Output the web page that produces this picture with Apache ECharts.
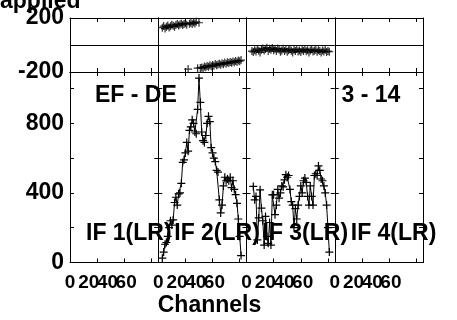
<!DOCTYPE html>
<html><head><meta charset="utf-8">
<script src="https://cdn.jsdelivr.net/npm/echarts@6/dist/echarts.min.js"></script>
<style>html,body{margin:0;padding:0;background:#fff}#c{width:457px;height:320px}</style>
</head><body><div id="c"></div>
<script>
// ---- data ----
const ifLabels = ['IF 1(LR)', 'IF 2(LR)', 'IF 3(LR)', 'IF 4(LR)'];
const baselineLabel = 'EF - DE';
const timeLabel = '3 - 14';
const titleText = 'applied';
const xAxisName = 'Channels';
const xTickLabels = [0, 20, 40, 60];
const ampTickLabels = [0, 400, 800];
const phaseTickLabels = [-200, 200];
const chanMax = 65;
const ampMax = 1095;
const phaseMin = -200;
const phaseMax = 200;

const if2AmpStart = 3;
const if2Amp = [25,60,105,115,150,200,240,215,245,345,375,330,395,400,455,575,590,630,690,640,760,780,820,800,750,740,880,1060,920,750,700,690,730,800,840,810,660,630,600,580,530,520,360,285,330,440,490,470,480,470,490,430,470,420,390,340,250,150,40];
const if2PhaseStart = 3;
const if2Phase = [128,140,122,135,145,130,138,150,142,136,148,155,144,152,160,148,156,162,150,-178,158,165,155,168,160,172,-172,165,-170,-166,-172,-160,-164,-155,-162,-150,-158,-148,-154,-140,-150,-145,-138,-146,-135,-142,-130,-138,-128,-134,-125,-132,-122,-128,-118,-125,-115,-120,-112];
const if3AmpStart = 5;
const if3Amp = [437,360,380,130,256,418,312,240,100,265,150,110,230,100,389,390,275,330,420,370,400,440,435,475,505,490,500,420,350,330,200,310,250,330,380,440,400,470,485,460,380,330,440,380,330,500,510,500,555,530,480,470,440,400,330,200,60];
const if3PhaseStart = 4;
const if3Phase = [-45,-52,-38,-48,-30,-42,-55,-35,-25,-40,-30,-20,-45,-28,-35,-22,-38,-30,-45,-25,-35,-50,-40,-28,-45,-33,-50,-38,-30,-42,-55,-35,-45,-30,-48,-40,-52,-35,-44,-30,-46,-38,-55,-40,-32,-48,-42,-35,-50,-38,-45,-55,-40,-48,-35,-52,-45,-50];

// ---- layout ----
const panelLeft = 70, panelW = 88.25;
const phaseTop = 18, phaseH = 54;
const ampTop = 72, ampH = 190.5;
const FONT = '"Liberation Sans", Arial, sans-serif';
const plus = 'path://M0,4.25H10V5.75H0Z M4.25,0H5.75V10H4.25Z';

const grids = [], xAxes = [], yAxes = [], series = [];
const lineCol = '#000';
function xa(grid, pos, extra) {
  xAxes.push(Object.assign({
    type: 'value', gridIndex: grid, position: pos, min: 0, max: chanMax, interval: 20,
    axisLine: { show: true, onZero: false, lineStyle: { color: lineCol, width: 1 } },
    axisTick: { show: true, inside: true, length: 4, lineStyle: { color: lineCol } },
    axisLabel: { show: false }, splitLine: { show: false }
  }, extra || {}));
  return xAxes.length - 1;
}
function ya(grid, pos, extra) {
  yAxes.push(Object.assign({
    type: 'value', gridIndex: grid, position: pos,
    axisLine: { show: true, onZero: false, lineStyle: { color: lineCol, width: 1 } },
    axisTick: { show: true, inside: true, length: 4, lineStyle: { color: lineCol } },
    axisLabel: { show: false }, splitLine: { show: false }
  }, extra || {}));
  return yAxes.length - 1;
}
const idx = [];
for (let i = 0; i < 4; i++) {
  const L = panelLeft + i * panelW;
  grids.push({ left: L, top: phaseTop, width: panelW, height: phaseH });
  const gp = grids.length - 1;
  grids.push({ left: L, top: ampTop, width: panelW, height: ampH });
  const ga = grids.length - 1;
  xa(gp, 'top');
  const pxb = xa(gp, 'bottom');
  xa(ga, 'top');
  const axb = xa(ga, 'bottom');
  xa(ga, 'bottom', {
    max: chanMax * 1.45, axisLine: { show: false, onZero: false }, axisTick: { show: false },
    axisLabel: { show: true, margin: 11, fontSize: 19, fontWeight: 'bold', fontFamily: FONT, color: '#000',
      showMinLabel: true, showMaxLabel: false, hideOverlap: false, interval: 0,
      formatter: v => xTickLabels.includes(v) ? String(v) : '' }
  });
  const pyl = ya(gp, 'left', {
    min: phaseMin, max: phaseMax, interval: 200, axisTick: { show: false },
    splitLine: { show: true, lineStyle: { color: lineCol, width: 1 } },
    axisLabel: { show: i === 0, margin: 6, fontSize: 23, fontWeight: 'bold', fontFamily: FONT, color: '#000',
      showMinLabel: true, showMaxLabel: true, hideOverlap: false,
      formatter: v => phaseTickLabels.includes(v) ? String(v) : '' }
  });
  ya(gp, 'right', { min: phaseMin, max: phaseMax, interval: 200, axisTick: { show: false } });
  const ayl = ya(ga, 'left', {
    min: 0, max: ampMax, interval: 200,
    axisLabel: { show: i === 0, margin: 6, fontSize: 23, fontWeight: 'bold', fontFamily: FONT, color: '#000',
      showMinLabel: true, showMaxLabel: false, hideOverlap: false,
      formatter: v => ampTickLabels.includes(v) ? String(v) : '' }
  });
  ya(ga, 'right', { min: 0, max: ampMax, interval: 200 });
  idx.push({ pxb, axb, pyl, ayl });
}
function pairs(start, arr) { return arr.map((v, k) => [start + k, v]); }
function addIF(i, ampStart, amp, phStart, ph) {
  series.push({
    type: 'scatter', xAxisIndex: idx[i].pxb, yAxisIndex: idx[i].pyl, data: pairs(phStart, ph),
    symbol: plus, symbolSize: 8, itemStyle: { color: '#000' }, silent: true
  });
  series.push({
    type: 'line', xAxisIndex: idx[i].axb, yAxisIndex: idx[i].ayl, data: pairs(ampStart, amp),
    symbol: plus, symbolSize: 8, showAllSymbol: true, itemStyle: { color: '#000' },
    lineStyle: { color: '#000', width: 1 }, silent: true
  });
}
addIF(1, if2AmpStart, if2Amp, if2PhaseStart, if2Phase);
addIF(2, if3AmpStart, if3Amp, if3PhaseStart, if3Phase);

function txt(text, x, y, align) {
  return { type: 'text', x: x, y: y, silent: true, z: 100,
    style: { text: text, font: 'bold 23px ' + FONT, fill: '#000',
      textAlign: align || 'left', align: align || 'left', textVerticalAlign: 'middle', verticalAlign: 'middle' } };
}
const graphics = [
  txt(titleText, 0, 1.5),
  txt(baselineLabel, 95, 95.5),
  txt(timeLabel, 341.5, 95.5),
  txt(xAxisName, 209.5, 306, 'center')
];
ifLabels.forEach((t, i) => graphics.push(txt(t, panelLeft + i * panelW + 16, 234)));

const chart = echarts.init(document.getElementById('c'), null, { renderer: 'canvas' });
chart.setOption({
  animation: false,
  backgroundColor: '#fff',
  grid: grids, xAxis: xAxes, yAxis: yAxes, series: series,
  graphic: graphics
});
</script></body></html>
